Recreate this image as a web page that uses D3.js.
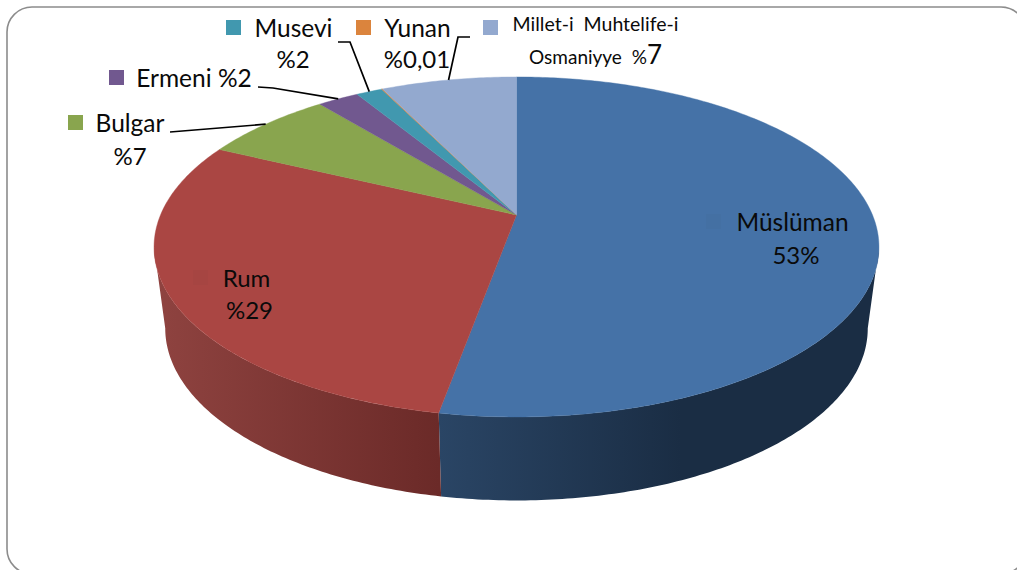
<!DOCTYPE html>
<html><head><meta charset="utf-8">
<script src="https://cdn.jsdelivr.net/npm/d3@7/dist/d3.min.js"></script>
<style>html,body{margin:0;padding:0;background:#fff;overflow:hidden}svg{display:block}text{font-family:Lato,"Open Sans",sans-serif;fill:#0a0a0a}</style>
</head><body><svg id="c" width="1017" height="570"></svg>
<script>
const categories=["Müslüman","Rum","Bulgar","Ermeni","Musevi","Yunan","Millet-i Muhtelife-i Osmaniyye"];
const shares=[52.85,29.25,7.0,2.2,1.4,0.05,7.25];
const colors=["#4572A7","#AA4643","#89A54E","#71588F","#4198AF","#DB843D","#93A9CF"];
const wallLeft=["#2a4565","#8f4340","#6f8640","#5c4774","#347a8e","#b26a30","#7888a8"];
const wallRight=["#1a2d44","#6b2a28","#55682f","#463658","#285f6e","#8a5225","#5c6a82"];
const labelLines=[
 [{t:"Müslüman",x:792.5,y:231,s:24.5},{t:"53%",x:796,y:264,s:24}],
 [{t:"Rum",x:246.5,y:287,s:24},{t:"%29",x:249.5,y:319,s:24}],
 [{t:"Bulgar",x:130,y:132,s:24.5},{t:"%7",x:130,y:165,s:24}],
 [{t:"Ermeni %2",x:194,y:87,s:24.5}],
 [{t:"Musevi",x:293.5,y:37,s:24.5},{t:"%2",x:293,y:68,s:24}],
 [{t:"Yunan",x:417.5,y:37,s:24.5},{t:"%0,01",x:417,y:68,s:24}],
 [{t:"Millet-i  Muhtelife-i",x:595.5,y:31,s:19.5},{t:"Osmaniyye  %",x:595.5,y:64,s:19,tail:"7"}]
];
const keyPos=[[706,214],[193,270],[68,115],[109,70],[226,20],[356,20],[483,20]];
const leaderStart=[null,null,[[170,132]],[[258,87],[273,88]],[[338,42],[350,42]],null,[[470,37],[458,37]]];

const svg=d3.select("#c");
svg.append("rect").attr("x",7).attr("y",7).attr("width",1019).attr("height",567).attr("rx",25).attr("ry",25)
 .attr("fill","#fff").attr("stroke","#8c8c8c").attr("stroke-width",1.6);

const TOP={cx:516.5,cy:215,a:356,b:164,k:0.188};
const BOT={cx:516.5,cy:296,a:345,b:166,k:0.188};
const project=(f,t)=>{const w=1+f.k*Math.cos(t);return [f.cx+f.a*Math.sin(t)/w,f.cy-f.b*Math.cos(t)/w];};
const pie=d3.pie().sort(null).value(d=>d);
const arcs=pie(shares);
const line=d3.line();
const samples=(t0,t1)=>{const n=Math.max(2,Math.ceil(Math.abs(t1-t0)*80));return d3.range(n+1).map(i=>t0+(t1-t0)*i/n);};
const visA=Math.acos(-TOP.k), visB=2*Math.PI-visA;
const defs=svg.append("defs");

// walls
arcs.forEach((d,i)=>{
 const t0=Math.max(d.startAngle,visA),t1=Math.min(d.endAngle,visB);
 if(t1<=t0)return;
 const ts=samples(t0,t1);
 const top=ts.map(t=>project(TOP,t)),bot=ts.map(t=>project(BOT,t)).reverse();
 const x0=d3.max(top,p=>p[0]),x1=d3.min(top,p=>p[0]);
 const id="w"+i;
 const g=defs.append("linearGradient").attr("id",id).attr("gradientUnits","userSpaceOnUse")
   .attr("x1",x1).attr("x2",x0).attr("y1",0).attr("y2",0);
 g.append("stop").attr("offset",0).attr("stop-color",wallLeft[i]);
 if(i===0)g.append("stop").attr("offset",0.55).attr("stop-color",wallRight[i]);
 g.append("stop").attr("offset",1).attr("stop-color",wallRight[i]);
 svg.append("path").attr("d",line(top.concat(bot))+"Z").attr("fill",`url(#${id})`);
});
// top faces
arcs.forEach((d,i)=>{
 const pts=[[TOP.cx,TOP.cy]].concat(samples(d.startAngle,d.endAngle).map(t=>project(TOP,t)));
 svg.append("path").attr("d",line(pts)+"Z").attr("fill",colors[i]).attr("stroke",colors[i]).attr("stroke-width",0.4);
});
// leaders
arcs.forEach((d,i)=>{
 if(!leaderStart[i])return;
 const end=project(TOP,(d.startAngle+d.endAngle)/2);
 svg.append("path").attr("d",line(leaderStart[i].concat([end]))).attr("fill","none").attr("stroke","#000").attr("stroke-width",1.7);
});
// keys
keyPos.forEach((p,i)=>{
 svg.append("rect").attr("x",p[0]).attr("y",p[1]).attr("width",15).attr("height",15)
  .attr("fill",i<2?d3.color(colors[i]).darker(0.06):colors[i]);
});
// labels
labelLines.forEach(ls=>ls.forEach(l=>{
 const t=svg.append("text").attr("x",l.x).attr("y",l.y).attr("text-anchor","middle").attr("font-size",l.s).style("white-space","pre").text(l.t);
 if(l.tail)t.append("tspan").attr("font-size",26).text(l.tail);
}));
</script></body></html>
